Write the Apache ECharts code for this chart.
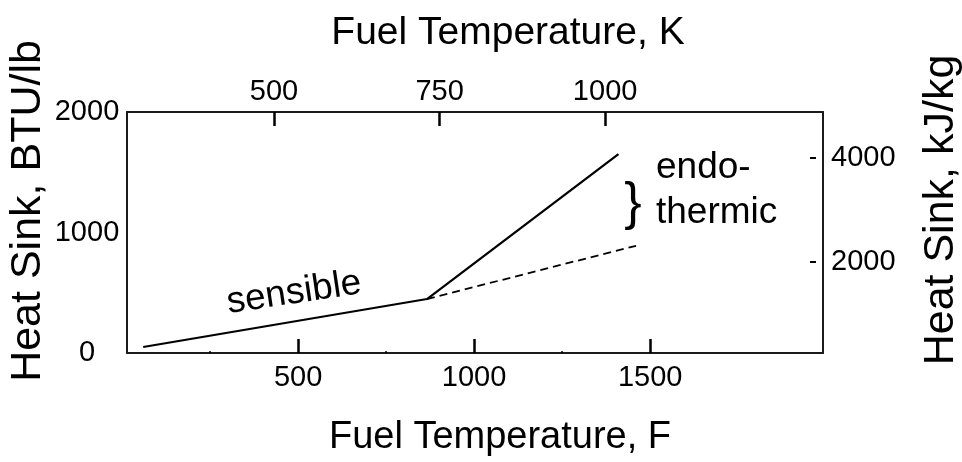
<!DOCTYPE html>
<html>
<head>
<meta charset="utf-8">
<script src="https://cdn.jsdelivr.net/npm/echarts@6/dist/echarts.min.js"></script>
<style>
html,body{margin:0;padding:0;background:#fff;}
#chart{width:962px;height:462px;}
</style>
</head>
<body>
<div id="chart"></div>
<script>
// ---- data ----
const sensibleF = [60, 866, 1410];          // solid line, deg F
const sensibleBTU = [50, 448, 1650];        // BTU/lb
const dashedF = [866, 1460];
const dashedBTU = [448, 890];

const bottomTicksF = [500, 1000, 1500];
const bottomMinorF = [250, 750, 1250];
const topTicksK = [500, 750, 1000];
const leftTicksBTU = [0, 1000, 2000];
const rightTicksKJ = [2000, 4000];

const texts = {
  topTitle: 'Fuel Temperature, K',
  bottomTitle: 'Fuel Temperature, F',
  leftTitle: 'Heat Sink, BTU/lb',
  rightTitle: 'Heat Sink, kJ/kg',
  sensible: 'sensible',
  endo1: 'endo-',
  endo2: 'thermic'
};

const FONT = '"Liberation Sans", Arial, sans-serif';
const chart = echarts.init(document.getElementById('chart'), null, {renderer: 'canvas'});

const lineStyle = {color: '#1a1a1a', width: 2};
const tickStyle = {color: '#000', width: 2.5};
const plain = v => String(v);
const labelStyle = {color: '#000', fontSize: 29, fontFamily: FONT, formatter: plain};

function pairs(xs, ys) { return xs.map((x, i) => [x, ys[i]]); }

const option = {
  backgroundColor: '#fff',
  animation: false,
  grid: {left: 127, right: 139, top: 112, bottom: 109, containLabel: false},
  xAxis: [
    { // bottom, Fahrenheit
      type: 'value', position: 'bottom', min: 14, max: 1991,
      axisLine: {show: true, lineStyle: lineStyle},
      axisTick: {show: true, inside: true, length: 14, lineStyle: tickStyle, customValues: bottomTicksF},
      axisLabel: Object.assign({show: true, margin: 10, customValues: bottomTicksF}, labelStyle),
      splitLine: {show: false}
    },
    { // top, Kelvin
      type: 'value', position: 'top', min: 278, max: 1329,
      axisLine: {show: true, lineStyle: lineStyle},
      axisTick: {show: true, inside: true, length: 14, lineStyle: tickStyle, customValues: topTicksK},
      axisLabel: Object.assign({show: true, margin: 6, customValues: topTicksK}, labelStyle),
      splitLine: {show: false}
    },
    { // bottom minor ticks
      type: 'value', position: 'bottom', min: 14, max: 1991,
      axisLine: {show: false},
      axisTick: {show: true, inside: true, length: 2, lineStyle: {color: '#000', width: 1.5}, customValues: bottomMinorF},
      axisLabel: {show: false},
      splitLine: {show: false}
    }
  ],
  yAxis: [
    { // left, BTU/lb
      type: 'value', position: 'left', min: 0, max: 2000,
      axisLine: {show: true, lineStyle: lineStyle},
      axisTick: {show: false},
      axisLabel: Object.assign({show: true, margin: 40, align: 'center', customValues: leftTicksBTU}, labelStyle),
      splitLine: {show: false}
    },
    { // right, kJ/kg
      type: 'value', position: 'right', min: 250, max: 4885,
      axisLine: {show: true, onZero: false, lineStyle: lineStyle},
      axisTick: {show: false},
      axisLabel: Object.assign({show: true, margin: 8, customValues: rightTicksKJ}, labelStyle),
      splitLine: {show: false}
    },
    { // right ticks, drawn slightly inside the frame
      type: 'value', position: 'right', offset: -7, min: 250, max: 4885,
      axisLine: {show: false},
      axisTick: {show: true, inside: true, length: 6, lineStyle: {color: '#000', width: 2}, customValues: rightTicksKJ},
      axisLabel: {show: false},
      splitLine: {show: false}
    }
  ],
  series: [
    {
      type: 'line', xAxisIndex: 0, yAxisIndex: 0, symbol: 'none',
      data: pairs(sensibleF, sensibleBTU),
      lineStyle: {color: '#000', width: 2.2, type: 'solid'},
      z: 3
    },
    {
      type: 'line', xAxisIndex: 0, yAxisIndex: 0, symbol: 'none',
      data: pairs(dashedF, dashedBTU),
      lineStyle: {color: '#000', width: 1.8, type: [8, 5]},
      z: 2
    }
  ],
  graphic: [
    {type: 'text', x: 508, y: 33, style: {text: texts.topTitle, font: '39px ' + FONT, fill: '#000', align: 'center', verticalAlign: 'middle'}},
    {type: 'text', x: 500, y: 438, style: {text: texts.bottomTitle, font: '38px ' + FONT, fill: '#000', align: 'center', verticalAlign: 'middle'}},
    {type: 'text', x: 28, y: 211, rotation: Math.PI / 2, style: {text: texts.leftTitle, font: '43px ' + FONT, fill: '#000', align: 'center', verticalAlign: 'middle'}},
    {type: 'text', x: 941, y: 210, rotation: Math.PI / 2, style: {text: texts.rightTitle, font: '43px ' + FONT, fill: '#000', align: 'center', verticalAlign: 'middle'}},
    {type: 'text', x: 294, y: 293, rotation: 8.5 * Math.PI / 180, style: {text: texts.sensible, font: '37px ' + FONT, fill: '#000', align: 'center', verticalAlign: 'middle'}},
    {type: 'text', x: 656, y: 168, style: {text: texts.endo1, font: '37px ' + FONT, fill: '#000', align: 'left', verticalAlign: 'middle'}},
    {type: 'text', x: 656, y: 213, style: {text: texts.endo2, font: '37px ' + FONT, fill: '#000', align: 'left', verticalAlign: 'middle'}},
    {type: 'text', x: 633, y: 205, style: {text: '}', font: '52px ' + FONT, fill: '#000', align: 'center', verticalAlign: 'middle'}}
  ]
};
chart.setOption(option);
</script>
</body>
</html>
